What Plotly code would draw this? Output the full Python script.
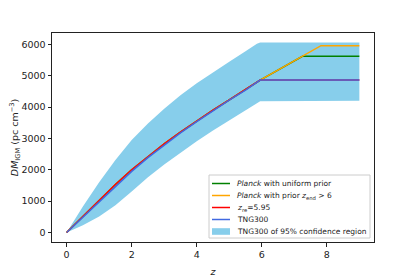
import plotly.graph_objects as go

# model redshift grid
z_model = [0, 0.5, 1, 1.5, 2, 2.5, 3, 3.5, 4, 4.5, 5, 5.5, 5.95, 9]
dm_tng300 = [0, 490, 990, 1480, 1950, 2390, 2800, 3180, 3540, 3890, 4220, 4540, 4860, 4860]
dm_zre = [0, 520, 1030, 1530, 2000, 2430, 2830, 3200, 3560, 3900, 4230, 4550, 4860, 4860]

z_planck_prior = [0, 0.5, 1, 1.5, 2, 2.5, 3, 3.5, 4, 4.5, 5, 5.5, 5.95, 7.82, 9]
dm_planck_prior = [0, 520, 1030, 1530, 2000, 2430, 2830, 3200, 3560, 3900, 4230, 4550, 4860, 5960, 5960]

z_planck_uniform = [0, 0.5, 1, 1.5, 2, 2.5, 3, 3.5, 4, 4.5, 5, 5.5, 5.95, 7.25, 9]
dm_planck_uniform = [0, 520, 1030, 1530, 2000, 2430, 2830, 3200, 3560, 3900, 4230, 4550, 4860, 5620, 5620]

# TNG300 95% confidence band
z_band = [0, 0.5, 1, 1.5, 2, 2.5, 3, 3.5, 4, 4.5, 5, 5.5, 5.85, 5.95, 9]
band_upper = [0, 830, 1600, 2310, 2950, 3480, 3950, 4380, 4760, 5110, 5450, 5780, 6020, 6060, 6060]
band_lower = [0, 230, 510, 870, 1310, 1760, 2170, 2550, 2910, 3250, 3570, 3890, 4130, 4190, 4200]

x_ticks = [0, 2, 4, 6, 8]
y_ticks = [0, 1000, 2000, 3000, 4000, 5000, 6000]

legend_labels = [
    "<i>Planck</i> with uniform prior",
    "<i>Planck</i> with prior <i>z</i><sub>end</sub> > 6",
    "<i>z</i><sub>re</sub>=5.95",
    "TNG300",
    "TNG300 of 95% confidence region",
]
legend_colors = ["green", "orange", "red", "royalblue", "skyblue"]

# page is offset by the default 8px body margin
OFF = 8
W, H = 415 - OFF, 277 - OFF
ML, MR, MT, MB = 52 - OFF, 41, 33 - OFF, 35
PW, PH = W - ML - MR, H - MT - MB


def px_x(px):
    return (px - OFF - ML) / PW


def px_y(py):
    return (MT + PH - (py - OFF)) / PH


fig = go.Figure()

fig.add_trace(go.Scatter(x=z_band, y=band_lower, mode="lines", line=dict(width=0, color="skyblue"),
                         showlegend=False, hoverinfo="skip"))
fig.add_trace(go.Scatter(x=z_band, y=band_upper, mode="lines", line=dict(width=0, color="skyblue"),
                         fill="tonexty", fillcolor="skyblue",
                         name=legend_labels[4], showlegend=False))
fig.add_trace(go.Scatter(x=z_planck_uniform, y=dm_planck_uniform, mode="lines",
                         line=dict(color=legend_colors[0], width=1.5),
                         name=legend_labels[0], showlegend=False))
fig.add_trace(go.Scatter(x=z_planck_prior, y=dm_planck_prior, mode="lines",
                         line=dict(color=legend_colors[1], width=1.5),
                         name=legend_labels[1], showlegend=False))
fig.add_trace(go.Scatter(x=z_model, y=dm_zre, mode="lines",
                         line=dict(color=legend_colors[2], width=1.5),
                         name=legend_labels[2], showlegend=False))
fig.add_trace(go.Scatter(x=z_model, y=dm_tng300, mode="lines",
                         line=dict(color=legend_colors[3], width=1.5),
                         name=legend_labels[3], showlegend=False))

# compact legend, matplotlib style
shapes = [dict(type="rect", xref="paper", yref="paper",
               x0=px_x(209), x1=px_x(370), y0=px_y(238), y1=px_y(175),
               line=dict(color="#cccccc", width=1), fillcolor="rgba(255,255,255,0.8)", layer="above")]
annotations = []
row_y = [183.5, 195.5, 207.5, 219.5, 231.5]
for i, (lab, col) in enumerate(zip(legend_labels, legend_colors)):
    ry = row_y[i]
    if i < 4:
        shapes.append(dict(type="line", xref="paper", yref="paper",
                           x0=px_x(212), x1=px_x(230), y0=px_y(ry), y1=px_y(ry),
                           line=dict(color=col, width=1.5), layer="above"))
    else:
        shapes.append(dict(type="rect", xref="paper", yref="paper",
                           x0=px_x(212), x1=px_x(230), y0=px_y(ry + 3.3), y1=px_y(ry - 3.3),
                           line=dict(width=0), fillcolor=col, layer="above"))
    annotations.append(dict(xref="paper", yref="paper", x=px_x(235), y=px_y(ry),
                            xanchor="left", yanchor="middle", showarrow=False,
                            text=lab, font=dict(size=7.5, color="#222")))

axis_common = dict(showgrid=False, zeroline=False, showline=True, linecolor="#222", linewidth=1,
                   mirror=True, ticks="outside", ticklen=3.5, tickwidth=0.8, tickcolor="#222",
                   tickfont=dict(size=9.5, color="#222"), automargin=False)

fig.update_layout(
    width=W, height=H,
    margin=dict(l=ML, r=MR, t=MT, b=MB),
    paper_bgcolor="white", plot_bgcolor="white",
    font=dict(family="DejaVu Sans", color="#222"),
    xaxis=dict(range=[-0.45, 9.45], tickvals=x_ticks, ticktext=[str(v) for v in x_ticks],
               title=dict(text="<i>z</i>", font=dict(size=9.5)), **axis_common),
    yaxis=dict(range=[-303, 6363], tickvals=y_ticks, ticktext=[str(v) for v in y_ticks],
               title=dict(text="<i>DM</i><sub>IGM</sub> (pc cm<sup>−3</sup>)", font=dict(size=9.5)),
               **axis_common),
    shapes=shapes,
    annotations=annotations,
    showlegend=False,
)

fig.write_html("out.html")
